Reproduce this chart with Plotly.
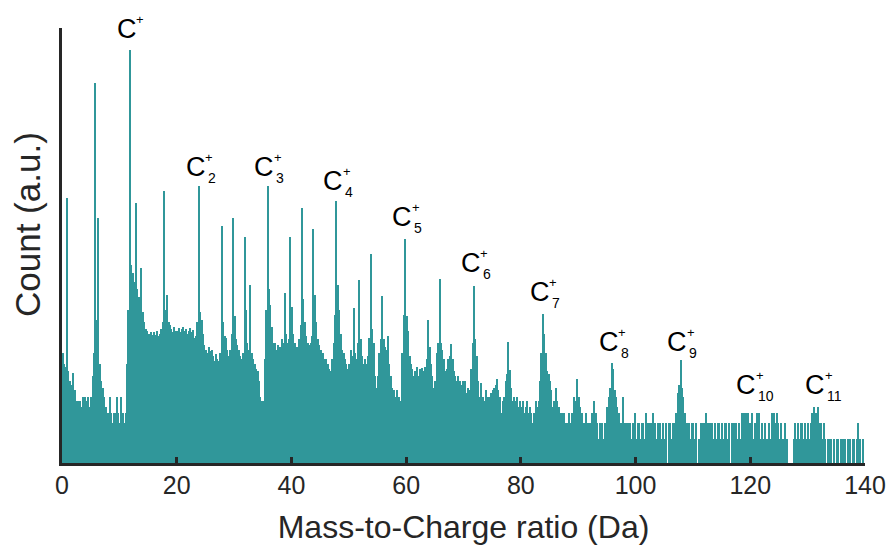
import plotly.graph_objects as go

# ---------------- data (counts per 0.25 Da bin) ----------------
BIN_WIDTH = 0.25   # Da
MZ_START = 0.0

counts_0_35 = [
    40, 25, 22, 29000,      # 0-1
    18, 12, 10, 17,         # 1-2
    7, 8, 5, 5,             # 2-3
    5, 4, 6, 5,             # 3-4
    6, 5, 6, 4,             # 4-5
    6, 15, 40, 3900000,     # 5-6
    160, 12500, 25, 12,     # 6-7
    9, 6, 4, 3,             # 7-8
    3, 6, 3, 2,             # 8-9
    3, 3, 6, 3,             # 9-10
    2, 6, 3, 2,             # 10-11
    3, 25, 250, 16000000,   # 11-12
    1700, 1200, 800, 23500, # 12-13
    600, 420, 280, 1450,    # 13-14
    230, 150, 110, 100,     # 14-15
    90, 80, 95, 85,         # 15-16
    95, 85, 100, 80,        # 16-17
    90, 110, 150, 39000,    # 17-18
    250, 460, 150, 130,     # 18-19
    110, 95, 120, 100,      # 19-20
    100, 115, 95, 110,      # 20-21
    120, 100, 110, 90,      # 21-22
    100, 115, 95, 105,      # 22-23
    75, 80, 150, 48000,     # 23-24
    230, 160, 90, 55,       # 24-25
    45, 40, 50, 42,         # 25-26
    45, 35, 28, 38,         # 26-27
    30, 28, 40, 8700,       # 27-28
    150, 80, 75, 45,        # 28-29
    35, 45, 90, 12300,      # 29-30
    190, 70, 55, 45,        # 30-31
    35, 30, 40, 5500,       # 31-32
    245, 60, 45, 710,       # 32-33
    40, 30, 25, 20,         # 33-34
    18, 12, 6, 5,           # 34-35
]
counts_35_70 = [
    5, 30, 250, 48000,      # 35-36
    600, 300, 120, 60,      # 36-37
    60, 45, 55, 40,         # 37-38
    50, 70, 60, 500,        # 38-39
    90, 60, 70, 5500,       # 39-40
    280, 90, 60, 50,        # 40-41
    50, 70, 130, 18700,     # 41-42
    400, 150, 80, 60,       # 42-43
    55, 60, 80, 7900,       # 43-44
    460, 150, 70, 55,       # 44-45
    45, 35, 40, 30,         # 45-46
    30, 25, 20, 18,         # 46-47
    30, 60, 200, 25800,     # 47-48
    700, 250, 90, 45,       # 48-49
    40, 30, 25, 20,         # 49-50
    25, 45, 35, 265,        # 50-51
    40, 30, 60, 880,        # 51-52
    70, 35, 25, 30,         # 52-53
    25, 35, 75, 2650,       # 53-54
    110, 60, 15, 9,         # 54-55
    15, 40, 70, 445,        # 55-56
    70, 50, 45, 80,         # 56-57
    25, 15, 9, 8,           # 57-58
    6, 8, 5, 6,             # 58-59
    5, 40, 200, 5000,       # 59-60
    190, 100, 35, 25,       # 60-61
    20, 15, 18, 22,         # 61-62
    15, 20, 18, 21,         # 62-63
    18, 22, 30, 160,        # 63-64
    50, 25, 15, 9,          # 64-65
    12, 40, 60, 920,        # 65-66
    60, 45, 30, 18,         # 66-67
    20, 30, 35, 57,         # 67-68
    30, 18, 15, 12,         # 68-69
    15, 12, 10, 12,         # 69-70
]
counts_70_105 = [
    8, 12, 7, 9,            # 70-71
    8, 20, 60, 680,         # 71-72
    70, 35, 12, 6,          # 72-73
    11, 6, 5, 8,            # 73-74
    5, 6, 6, 7,             # 74-75
    8, 9, 10, 13,           # 75-76
    8, 6, 3, 5,             # 76-77
    6, 12, 16, 63,          # 77-78
    19, 9, 5, 6,            # 78-79
    5, 6, 4, 5,             # 79-80
    4, 5, 3, 4,             # 80-81
    5, 3, 4, 3,             # 81-82
    2, 3, 5, 4,             # 82-83
    5, 12, 40, 205,         # 83-84
    90, 40, 18, 16,         # 84-85
    12, 8, 4, 5,            # 85-86
    9, 5, 4, 3,             # 86-87
    3, 2, 3, 2,             # 87-88
    2, 3, 2, 3,             # 88-89
    3, 6, 5, 13,            # 89-90
    6, 4, 3, 2,             # 90-91
    2, 3, 2, 2,             # 91-92
    2, 3, 2, 5,             # 92-93
    3, 2, 1, 2,             # 93-94
    2, 1, 2, 2,             # 94-95
    4, 6, 9, 26,            # 95-96
    20, 8, 6, 4,            # 96-97
    3, 2, 2, 6,             # 97-98
    2, 1, 2, 2,             # 98-99
    2, 1, 2, 3,             # 99-100
    1, 2, 2, 1,             # 100-101
    2, 2, 1, 3,             # 101-102
    2, 1, 2, 2,             # 102-103
    3, 2, 1, 2,             # 103-104
    2, 2, 1, 2,             # 104-105
]
counts_105_140 = [
    1, 2, 0, 2,             # 105-106
    2, 1, 2, 2,             # 106-107
    3, 7, 10, 29,           # 107-108
    9, 6, 3, 2,             # 108-109
    2, 2, 1, 2,             # 109-110
    2, 1, 2, 0,             # 110-111
    1, 2, 1, 2,             # 111-112
    2, 3, 2, 2,             # 112-113
    2, 2, 1, 2,             # 113-114
    1, 2, 2, 1,             # 114-115
    2, 1, 2, 2,             # 115-116
    1, 2, 0, 2,             # 116-117
    2, 1, 2, 1,             # 117-118
    2, 1, 3, 3,             # 118-119
    3, 3, 3, 2,             # 119-120
    2, 3, 1, 2,             # 120-121
    3, 2, 3, 1,             # 121-122
    2, 1, 2, 1,             # 122-123
    1, 2, 1, 3,             # 123-124
    3, 2, 3, 2,             # 124-125
    1, 2, 1, 1,             # 125-126
    2, 1, 0, 0,             # 126-127
    0, 0, 1, 2,             # 127-128
    1, 2, 1, 2,             # 128-129
    2, 1, 2, 1,             # 129-130
    2, 1, 2, 3,             # 130-131
    4, 3, 3, 4,             # 131-132
    2, 2, 1, 2,             # 132-133
    1, 0, 1, 1,             # 133-134
    1, 0, 1, 0,             # 134-135
    1, 1, 0, 1,             # 135-136
    1, 1, 1, 0,             # 136-137
    1, 1, 0, 1,             # 137-138
    1, 0, 1, 2,             # 138-139
    1, 0, 1, 0,             # 139-140
]

x_ticks = [0, 20, 40, 60, 80, 100, 120, 140]
x_title = "Mass-to-Charge ratio (Da)"
y_title = "Count (a.u.)"

# carbon cluster labels C_n^+
cluster_n = [1, 2, 3, 4, 5, 6, 7, 8, 9, 10, 11]
cluster_sub = ["", "2", "3", "4", "5", "6", "7", "8", "9", "10", "11"]
CARBON_MASS = 12.0

# ---------------- layout helpers (positions, not data) ----------------
W, H = 888, 545
PL, PR, PT, PB = 62, 865, 28, 463          # plot area in pixels
label_c_py = [29, 167, 167, 181, 217, 263, 292, 342, 342, 385, 385]  # pixel y of "C" glyph centre


def py_to_paper(py):
    return (PB - py) / (PB - PT)


def px_to_paper(px):
    return (px - PL) / (PR - PL)


counts = counts_0_35 + counts_35_70 + counts_70_105 + counts_105_140
mz = [MZ_START + BIN_WIDTH * (k + 0.5) for k in range(len(counts))]
y_vals = [c if c > 0 else None for c in counts]

TEAL = "#30979a"
AXIS = "#262626"
FONT = "Arial, Liberation Sans, sans-serif"

fig = go.Figure()
fig.add_trace(go.Bar(
    x=mz, y=y_vals, width=BIN_WIDTH,
    marker=dict(color=TEAL, line=dict(width=0)),
    hoverinfo="skip",
))

annotations = []
for n, sub, cy in zip(cluster_n, cluster_sub, label_c_py):
    xm = n * CARBON_MASS
    yp = py_to_paper(cy)
    annotations.append(dict(x=xm, y=yp, xref="x", yref="paper", text="C", showarrow=False,
                            xanchor="center", yanchor="middle", xshift=-4,
                            font=dict(family=FONT, size=27, color="black")))
    annotations.append(dict(x=xm, y=yp, xref="x", yref="paper", text="+", showarrow=False,
                            xanchor="center", yanchor="middle", xshift=-4 + 13.5, yshift=10,
                            font=dict(family=FONT, size=13, color="black")))
    if sub:
        annotations.append(dict(x=xm, y=yp, xref="x", yref="paper", text=sub, showarrow=False,
                                xanchor="left", yanchor="middle", xshift=-4 + 10, yshift=-11,
                                font=dict(family=FONT, size=14, color="black")))

annotations.append(dict(x=px_to_paper(27), y=py_to_paper(225), xref="paper", yref="paper",
                        text=y_title, showarrow=False, textangle=-90,
                        xanchor="center", yanchor="middle",
                        font=dict(family=FONT, size=35, color=AXIS)))

fig.update_layout(
    width=W, height=H,
    margin=dict(l=PL, r=W - PR, t=PT, b=H - PB, pad=0, autoexpand=False),
    paper_bgcolor="white", plot_bgcolor="white",
    bargap=0, showlegend=False,
    font=dict(family=FONT, color=AXIS),
    annotations=annotations,
    xaxis=dict(
        range=[0, 140], tickvals=x_ticks, ticktext=[str(v) for v in x_ticks],
        ticks="inside", ticklen=6, tickwidth=3, tickcolor=AXIS,
        showline=True, linewidth=3, linecolor=AXIS,
        showgrid=False, zeroline=False, automargin=False,
        tickfont=dict(family=FONT, size=25, color=AXIS),
        ticklabelstandoff=-2,
        title=dict(text=x_title, font=dict(family=FONT, size=32, color=AXIS), standoff=20),
    ),
    yaxis=dict(
        type="log", range=[-0.444, 7.613], automargin=False,
        showticklabels=False, ticks="", showgrid=False, zeroline=False,
        showline=True, linewidth=3, linecolor=AXIS,
    ),
)

fig.write_html("out.html")
